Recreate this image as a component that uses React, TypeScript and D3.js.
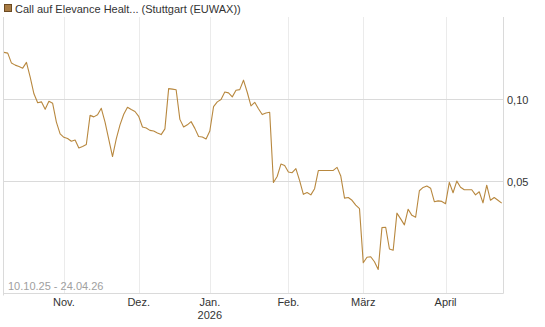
import React from "react";
import * as d3 from "d3";

const TITLE = "Call auf Elevance Healt... (Stuttgart (EUWAX))";
const RANGE_LABEL = "10.10.25 - 24.04.26";

// daily closing values (trading days 10.10.25 .. 24.04.26)
const values: number[] = [
  0.149, 0.1481, 0.1361, 0.1338, 0.1322, 0.1304, 0.1369, 0.1208, 0.105, 0.0973,
  0.0981, 0.0921, 0.0986, 0.0969, 0.0827, 0.0748, 0.0727, 0.072, 0.0703, 0.0711,
  0.0664, 0.0673, 0.0684, 0.0875, 0.0864, 0.0879, 0.0929, 0.0826, 0.0714, 0.0618,
  0.0717, 0.0808, 0.0883, 0.0937, 0.0919, 0.0904, 0.0868, 0.0793, 0.0787, 0.0771,
  0.0767, 0.0754, 0.0744, 0.0781, 0.1097, 0.1092, 0.1087, 0.0846, 0.0793, 0.0808,
  0.083, 0.0784, 0.0732, 0.0729, 0.0717, 0.0767, 0.0942, 0.0981, 0.1, 0.1066,
  0.1058, 0.1023, 0.1082, 0.1088, 0.1178, 0.1064, 0.0948, 0.0977, 0.0925, 0.0881,
  0.0893, 0.0898, 0.0496, 0.0522, 0.058, 0.0573, 0.0542, 0.0539, 0.0558, 0.0504,
  0.0449, 0.0456, 0.0447, 0.0471, 0.0549, 0.0549, 0.0549, 0.0549, 0.055, 0.0564,
  0.0524, 0.0435, 0.0437, 0.0427, 0.041, 0.0398, 0.0252, 0.0264, 0.0265, 0.0254,
  0.0238, 0.0339, 0.034, 0.0283, 0.028, 0.0383, 0.0365, 0.0347, 0.0396, 0.0376,
  0.037, 0.0463, 0.0476, 0.0482, 0.0473, 0.0422, 0.0425, 0.0423, 0.0415, 0.0497,
  0.0455, 0.0502, 0.0477, 0.0467, 0.0467, 0.0467, 0.0447, 0.0459, 0.0418, 0.0485,
  0.0427, 0.0437, 0.0427, 0.0417,
];

// month ticks: label and trading-day index of first trading day
const monthLabels = ["Nov.", "Dez.", "Jan.", "Feb.", "März", "April"];
const monthIndex = [16, 36, 55, 76, 96, 118];
const yearLabels = ["", "", "2026", "", "", ""];

const yTicks = [0.05, 0.1];
const yTickLabels = ["0,05", "0,10"];

const W = 545;
const H = 327;
const LEFT = 3.5;
const RIGHT = 503.5;
const TOP = 17;
const BOTTOM = 293.5;

export default function App() {
  const x = d3.scaleLinear().domain([0, values.length - 1]).range([4, 501.7]);
  const y = d3.scaleLog().domain([0.01943, 0.2009]).range([BOTTOM, TOP]);
  const line = d3
    .line<number>()
    .x((_, i) => x(i))
    .y((d) => y(d));

  const font = "'Liberation Sans', Arial, sans-serif";

  return (
    <svg
      width={W}
      height={H}
      style={{ position: "absolute", left: 0, top: 0, background: "#fff" }}
      fontFamily={font}
    >
      {/* title */}
      <rect x={4.5} y={4.5} width={7} height={7} fill="#a87b43" stroke="#6b4a22" strokeWidth={1} />
      <text x={15} y={12.5} fontSize={11} fill="#333">
        {TITLE}
      </text>

      {/* vertical month grid */}
      {monthIndex.map((m, i) => {
        const xx = Math.round(x(m)) + 0.5;
        return (
          <line key={"g" + i} x1={xx} x2={xx} y1={TOP} y2={BOTTOM} stroke="#ebebeb" strokeWidth={1} />
        );
      })}
      {/* horizontal grid */}
      {yTicks.map((t, i) => {
        const yy = Math.round(y(t) - 0.5) + 0.5;
        return (
          <line key={"h" + i} x1={LEFT} x2={RIGHT} y1={yy} y2={yy} stroke="#dadada" strokeWidth={1} />
        );
      })}
      {/* frame */}
      <line x1={LEFT} x2={LEFT} y1={TOP} y2={BOTTOM + 2} stroke="#dadada" />
      <line x1={RIGHT} x2={RIGHT} y1={TOP} y2={BOTTOM} stroke="#dadada" />
      <line x1={LEFT} x2={RIGHT} y1={BOTTOM} y2={BOTTOM} stroke="#dadada" />

      {/* y labels */}
      {yTicks.map((t, i) => (
        <text key={"yl" + i} x={507} y={y(t) + 4} fontSize={11} fill="#333">
          {yTickLabels[i]}
        </text>
      ))}

      {/* x labels */}
      {monthIndex.map((m, i) => (
        <g key={"xl" + i}>
          <text x={x(m)} y={306} fontSize={11} fill="#333" textAnchor="middle">
            {monthLabels[i]}
          </text>
          {yearLabels[i] && (
            <text x={x(m)} y={319} fontSize={11} fill="#333" textAnchor="middle">
              {yearLabels[i]}
            </text>
          )}
        </g>
      ))}

      {/* range label */}
      <text x={8} y={290} fontSize={11} fill="#a0a0a0">
        {RANGE_LABEL}
      </text>

      {/* price line */}
      <path d={line(values) || ""} fill="none" stroke="#b8883f" strokeWidth={1.1} strokeLinejoin="round" />
    </svg>
  );
}
